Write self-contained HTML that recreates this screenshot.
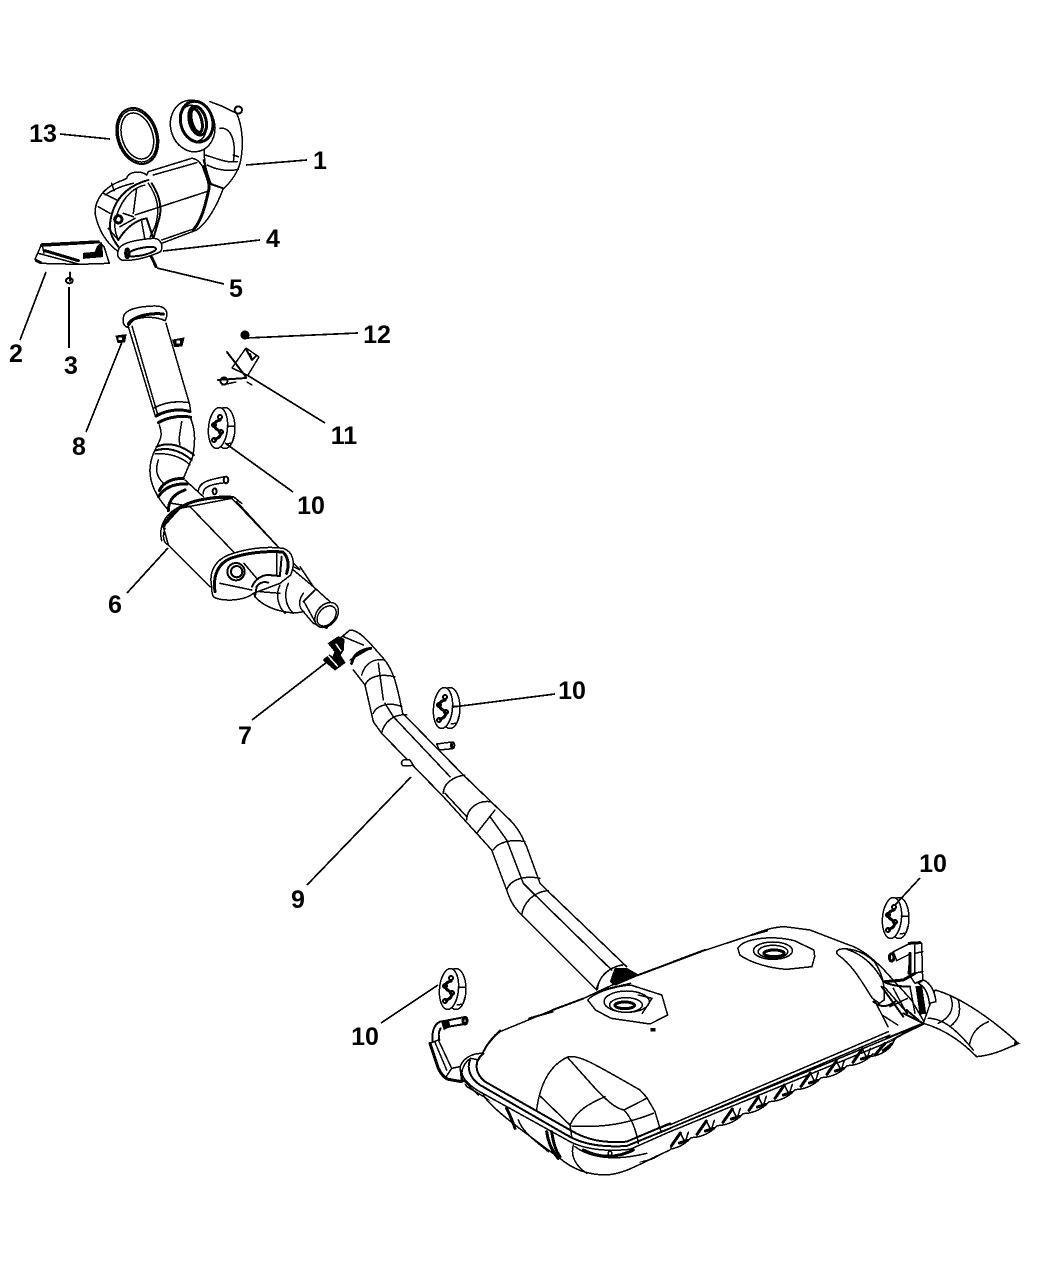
<!DOCTYPE html>
<html><head><meta charset="utf-8"><style>
html,body{margin:0;padding:0;background:#fff}
svg{display:block}
path,ellipse,circle,line,rect{vector-effect:non-scaling-stroke;shape-rendering:crispEdges}
text{font-family:"Liberation Sans",sans-serif;font-size:25px;font-weight:bold;text-anchor:middle;fill:#000}
.a{fill:none;stroke:#000;stroke-width:1.5;stroke-linecap:round;stroke-linejoin:round}
.t{fill:none;stroke:#000;stroke-width:3;stroke-linecap:round;stroke-linejoin:round}
.m{fill:none;stroke:#000;stroke-width:2;stroke-linecap:round;stroke-linejoin:round}
.w{fill:#fff;stroke:#000;stroke-width:1.5;stroke-linejoin:round}
.f{fill:#000;stroke:#000;stroke-width:1}
.l{stroke:#000;stroke-width:1.7;fill:none}
</style></head><body>
<svg width="1050" height="1275" viewBox="0 0 1050 1275" xmlns="http://www.w3.org/2000/svg">
<rect width="1050" height="1275" fill="#fff"/>
<defs>
<g id="gr">
<ellipse class="w" cx="7" cy="0" rx="10" ry="20.5"/>
<ellipse class="w" cx="0" cy="0" rx="9.5" ry="20.5" transform="rotate(5)"/>
<path class="t" d="M2,-8C-6,-6 -4,0 0,2C5,5 2,10 -3,11"/>
<circle class="m" cx="2" cy="-11" r="2"/><circle class="m" cx="-4" cy="-3" r="2"/><circle class="m" cx="3" cy="4" r="2"/><circle class="m" cx="-4" cy="12" r="2"/>
<path class="a" d="M9,-2L17,-2M8,16L14,15M14,15L16,8"/>
</g>
<g id="cor">
<path class="t" d="M0,0L28,-40M25,-10L50,-18"/>
<path class="a" d="M-18,10Q30,8 60,-26M28,-40L42,-12M52,-42C48,-30 45,-20 42,-12"/>
</g>
</defs>

<!-- upper catalytic converter -->
<g transform="translate(20,90) scale(.33333)">
<ellipse class="m" cx="352" cy="138" rx="60" ry="86" transform="rotate(-18 352 138)"/>
<ellipse class="a" cx="352" cy="138" rx="55" ry="80" transform="rotate(-18 352 138)"/>
<ellipse class="a" cx="352" cy="138" rx="46" ry="71" transform="rotate(-18 352 138)"/>
<path class="a" d="M570,35L605,48L650,70C668,110 672,170 660,220C650,255 625,285 600,305"/>
<path class="a" d="M600,115C640,110 648,170 640,215M555,165C548,200 560,265 580,290L608,298"/>
<path class="a" d="M555,195C590,205 620,220 652,215M562,225C590,240 625,245 655,238M550,210L578,300M640,195L655,200"/>
<circle class="m" cx="655" cy="60" r="11"/>
<ellipse class="w" cx="518" cy="108" rx="66" ry="78" transform="rotate(-15 518 108)"/>
<ellipse class="t" cx="530" cy="95" rx="48" ry="62" transform="rotate(-15 530 95)"/>
<ellipse class="a" cx="520" cy="100" rx="38" ry="55" transform="rotate(-15 520 100)"/>
<ellipse class="t" cx="533" cy="92" rx="25" ry="44" transform="rotate(-15 533 92)"/>
<ellipse class="t" cx="530" cy="92" rx="15" ry="36" transform="rotate(-15 530 92)"/>
<path class="w" d="M45,508L65,462L235,453L252,470L268,520L175,523L60,520Z"/>
<path class="t" d="M65,466L235,456M75,482L175,512M50,512L62,518"/>
<path class="a" d="M55,490L175,522M68,470L72,490"/>
<path class="f" d="M190,490L225,487L232,470L245,458L248,500L190,505Z"/>
<path class="m" d="M150,548L150,572"/><ellipse class="m" cx="148" cy="572" rx="10" ry="8"/>
</g>
<g transform="translate(90,150) scale(.33333)">
<path class="w" d="M175,65L305,25C325,25 340,45 360,100L400,115C380,170 350,220 320,240L215,280L85,305C50,280 25,240 15,190C15,150 40,110 100,90L110,85C115,65 150,60 170,75Z"/>
<path class="a" d="M190,75L320,38M215,270L310,237M135,195L350,125"/>
<path class="t" d="M340,50C350,80 362,100 355,125C345,170 335,210 310,240"/>
<path class="m" d="M175,90C120,105 70,140 60,220C58,250 70,270 85,290M355,100L400,115"/>
<path class="a" d="M165,105C120,115 85,160 75,220C73,240 78,255 85,270"/>
<path class="m" d="M185,100C205,130 220,170 205,215L190,265"/>
<path class="a" d="M175,100C195,130 215,170 195,230L180,262"/>
<path class="a" d="M40,130L80,150M65,100L72,122M25,170L60,190M140,115L130,190M55,235L85,270M45,135C75,115 105,105 130,100"/>
<path class="m" d="M85,270C110,230 140,210 170,205L190,265"/>
<path class="a" d="M155,215L165,270M100,190L130,200M90,230L135,205"/>
<circle class="t" cx="85" cy="208" r="11"/>
<path class="w" d="M85,300C90,280 130,270 190,265C215,265 220,290 212,305C180,320 130,335 95,330C85,325 80,315 85,300Z"/>
<ellipse class="m" cx="155" cy="305" rx="44" ry="11" transform="rotate(-12 155 305)"/>
<ellipse class="t" cx="112" cy="310" rx="5" ry="13"/>
<path class="t" d="M185,322L198,350"/>
</g>

<!-- front pipe and resonator -->
<g transform="translate(100,300) scale(.33333)">
<path class="a" d="M85,80L165,345M96,78L172,340M198,70L268,310"/>
<path class="a" d="M160,325C195,305 235,303 268,308L272,335"/>
<path class="t" d="M168,348C200,330 240,325 270,335M175,368C205,350 250,345 272,352"/>
<path class="w" d="M70,55C70,30 110,20 160,18C200,16 208,38 195,62C170,50 130,48 100,60L82,82C72,78 68,68 70,55Z"/>
<path class="t" d="M85,72C100,48 150,38 190,42"/>
<path class="f" d="M48,108L78,104L74,126L54,128Z"/><rect x="56" y="112" width="10" height="8" fill="#fff"/>
<path class="f" d="M218,120L252,114L246,138L224,140Z"/><rect x="230" y="122" width="10" height="8" fill="#fff"/>
<path class="a" d="M272,355C288,395 285,430 278,470L250,535M178,375C190,410 180,420 165,450C135,510 150,570 205,630M245,365C240,400 235,415 240,435M175,480C165,510 170,530 190,550"/>
<path class="m" d="M170,440C205,425 245,435 282,465M165,452C200,440 240,450 275,480"/>
<path class="a" d="M165,462C205,458 245,470 270,495"/>
<path class="t" d="M178,572C190,545 220,535 250,535M175,590C195,560 225,550 262,552M205,632C205,600 225,580 255,570"/>
<path class="a" d="M255,540L310,590M215,610L275,620"/>
<path class="a" d="M295,572C298,548 320,540 375,530M310,582C308,562 330,552 380,548"/>
<ellipse class="m" cx="378" cy="540" rx="7" ry="10"/>
<ellipse class="m" cx="344" cy="574" rx="6" ry="9"/>
<path class="w" d="M205,735L330,860L420,860L580,800L600,810L420,620L395,595L240,625L190,680Z"/>
<path class="a" d="M270,620L405,760M410,605L580,790"/>
<path class="t" d="M190,680C205,650 230,625 265,610C300,597 350,590 395,592"/>
<path class="a" d="M185,722C175,680 195,645 230,625C270,600 340,585 400,590L425,610M205,735C185,725 190,700 195,685"/>
<path class="w" d="M580,810L640,860L712,925L680,985L640,970L610,935C570,945 500,930 465,890L455,860L472,836L505,822Z"/>
<path class="a" d="M540,855C525,885 535,920 555,940M565,850C550,885 558,920 580,940M610,880C592,905 598,925 612,936"/>
<path class="w" d="M335,860C325,810 350,780 385,765C440,745 500,738 550,745C578,755 588,785 572,825L540,850L460,880C430,905 360,905 340,890C335,880 335,870 335,860Z"/>
<path class="t" d="M345,875C338,825 355,790 392,775C440,758 500,752 548,756C565,770 568,795 560,820"/>
<path class="a" d="M360,850L455,870M432,790L470,835M530,760L530,825"/>
<path class="m" d="M545,770L540,825"/>
<circle class="m" cx="408" cy="815" r="26"/><circle class="m" cx="410" cy="815" r="17"/>
<path class="m" d="M456,860C465,838 485,825 505,825L540,828M465,890L470,860C480,845 495,845 505,848"/>
<path class="a" d="M480,875L540,880M600,800L640,860"/>
<ellipse class="w" cx="680" cy="945" rx="30" ry="42" transform="rotate(40 680 945)"/>
<ellipse class="a" cx="680" cy="948" rx="24" ry="34" transform="rotate(40 680 948)"/>
<path class="a" d="M645,870L610,905M612,905L645,965"/>
</g>

<!-- intermediate pipe -->
<g transform="translate(310,620) scale(.33333)">
<path class="a" d="M90,55L120,30C150,30 180,70 220,115C250,150 260,190 278,280L460,465L600,600C630,630 640,660 650,680L690,790L705,805L950,1040"/>
<path class="a" d="M130,150L165,195L190,305L215,340L400,530L500,640L545,690L590,810C600,840 610,860 635,885L860,1110"/>
<path class="a" d="M250,290L420,470M405,520L470,590M540,590L590,660L640,790L670,820L905,1050"/>
<path class="t" d="M125,130C130,105 150,90 182,85"/>
<path class="a" d="M100,50L160,75M120,120L180,85M155,165C165,130 190,115 225,120M165,195C175,170 210,160 255,170M205,130L220,240M190,280C200,255 240,245 275,260M215,340C220,310 250,280 290,285M225,250L250,290"/>
<path class="a" d="M400,520C400,490 430,470 465,465M470,600C470,570 500,540 540,545M500,640L555,570M550,690C560,670 600,655 645,665M590,810C600,780 640,765 690,775M635,885C640,850 670,815 715,812"/>
<path class="a" d="M860,1105C870,1070 890,1045 935,1035"/>
<path class="f" d="M905,1075L925,1045L965,1055L950,1075L910,1100Z"/>
<path class="w" d="M380,372L425,366L428,386L388,390Z"/><ellipse class="m" cx="428" cy="376" rx="5" ry="9"/>
<path class="w" d="M300,420L280,420C270,428 275,438 285,438L310,436Z"/>
</g>
<g transform="translate(300,620) scale(.33333)">
<path class="f" d="M85,70L100,60L115,50L132,58L130,90L120,105L135,128L105,150L70,120L88,105L98,112L105,95Z"/>
<path class="a" style="stroke:#fff" d="M85,108L112,138M108,72L122,92"/>
</g>

<!-- rear muffler: main contour -->
<g transform="translate(420,900) scale(.39,.33333)">
<path class="w" d="M420,295L340,330L205,395C175,425 165,450 150,480L130,475C110,490 105,515 108,535L120,560L470,800L620,760L1295,370L1260,300L1190,210C1165,180 1130,145 1100,135L1000,90L935,80C900,82 880,92 850,105L720,155L560,225L520,240Z"/>
<path class="m" d="M420,295L340,330M560,225L720,155M280,355L340,335M650,185L730,150M850,105L890,92"/>
<path class="a" d="M1072,150C1085,142 1130,145 1165,185C1185,220 1192,250 1190,300L1178,310L1160,295C1135,250 1110,195 1072,165C1066,158 1068,153 1072,150Z"/>
<path class="a" d="M1095,148C1140,165 1170,205 1185,240M1165,300L1200,380M1185,345L1225,375M1190,260L1250,340M1205,320L1250,295"/>
<path class="a" d="M430,300C445,280 490,260 540,255L620,285L635,345L590,372L490,355L450,330Z"/>
<ellipse class="a" cx="528" cy="315" rx="42" ry="22"/><ellipse class="t" cx="525" cy="316" rx="25" ry="10"/><ellipse class="a" cx="530" cy="305" rx="58" ry="32"/>
<path class="a" d="M560,285L595,295L570,340"/>
<path class="f" d="M592,385h10v8h-10z"/>
<path class="a" d="M815,145C830,115 900,105 960,122L1010,150L1012,170L1005,200L940,208C900,205 850,190 820,165Z"/>
<ellipse class="a" cx="905" cy="152" rx="50" ry="26"/><ellipse class="a" cx="905" cy="155" rx="38" ry="19"/><ellipse class="t" cx="908" cy="160" rx="26" ry="10"/>
<path class="a" d="M455,268C458,225 490,200 520,195"/>
<path class="f" d="M488,245L500,205L530,205L560,225L500,255Z"/>
<path class="a" d="M500,255L560,225M465,270L540,250"/>
</g>

<!-- long side: rim and corrugations -->
<g transform="translate(640,1020) scale(.33333)">
<path class="w" style="stroke:none" d="M0,365L765,55L790,60L600,200L300,330L30,440L0,440Z"/>
<path class="a" d="M65,325L745,35M65,335L750,45M0,362L755,50M0,372L765,58"/>
<path class="m" d="M765,55L810,30"/>
<path class="a" d="M680,110C725,110 755,85 765,55"/>
<use href="#cor" x="15" y="415"/><use href="#cor" x="93" y="379"/><use href="#cor" x="171" y="343"/><use href="#cor" x="249" y="307"/><use href="#cor" x="327" y="271"/><use href="#cor" x="405" y="235"/><use href="#cor" x="483" y="199"/><use href="#cor" x="561" y="163"/><use href="#cor" x="639" y="127"/>
<path class="t" d="M705,105L735,70M730,92L755,72"/>
</g>

<!-- left corner -->
<g transform="translate(420,1010) scale(.33333)">
<path class="w" style="stroke:none" d="M125,215L190,255L385,420L460,480L560,495L750,420L750,345L620,395L450,360L190,220Z"/>
<path class="a" d="M190,255C210,290 290,350 385,420C400,430 410,440 420,445C460,480 510,495 560,495C620,490 660,460 750,420"/>
<path class="m" d="M190,130C160,155 165,190 195,215L450,360C500,390 550,400 620,395L750,340"/>
<path class="m" d="M150,150C140,175 150,205 180,225L440,375C490,405 550,412 620,408L750,355"/>
<path class="a" d="M125,180C125,200 135,215 170,240L450,395C500,420 560,425 630,418L750,365M120,170C130,145 155,130 185,130M130,210L175,255"/>
<path class="a" d="M295,330C310,370 350,395 385,425M460,405C450,440 470,470 500,490M465,410C520,450 600,450 680,430"/>
<path class="t" d="M260,295C270,315 280,340 285,355M380,365C385,400 400,430 415,445M395,365C400,395 405,420 420,440M490,420C540,445 590,445 640,420"/>
<circle class="a" cx="570" cy="430" r="6"/>
<path class="m" d="M190,125C205,95 225,75 240,62"/>
<path class="a" d="M350,300C360,220 390,165 445,140C480,135 520,160 660,240L680,262L705,305L722,362"/>
<path class="a" d="M445,145L530,240C560,270 585,295 612,300L680,265M612,300C640,330 650,370 655,400M360,258L450,345M450,345C470,300 510,280 555,260M455,348C520,352 600,350 700,310M450,345L455,380"/>
<path class="w" d="M30,100L55,90L95,175L120,170L125,215L85,208C75,205 65,195 55,175Z"/>
<path class="t" d="M30,100L55,175C65,195 75,205 85,208L125,215"/>
<path class="a" d="M45,97L80,180M95,175L75,205"/>
<path class="m" d="M60,35C40,45 35,70 38,95M62,55C55,65 55,80 58,90M62,35L130,22M85,50L135,42"/>
<path class="f" d="M65,35L85,30L90,50L72,58Z"/>
<ellipse class="t" cx="135" cy="32" rx="6" ry="10"/>
</g>

<!-- right tail and hanger -->
<g transform="translate(860,930) scale(.33333)">
<path class="w" d="M225,180C300,200 400,270 475,340C430,360 400,375 350,380C310,340 260,300 190,280Z"/>
<path class="a" d="M270,195C285,230 275,260 235,280M295,210C305,250 295,270 270,290M385,275C350,290 335,310 328,345M205,265C250,265 290,300 340,360"/>
<path class="f" d="M465,335L478,340L462,348Z"/>
<path class="w" d="M190,150C215,160 225,190 228,215L208,220C205,190 195,170 175,160Z"/>
<path class="m" d="M70,155C90,165 120,170 150,170M65,170L130,260M40,215C65,235 85,230 105,215"/>
<path class="a" d="M150,170L165,250M100,175L140,250"/>
<path class="f" d="M168,170L185,168L197,250L180,252Z"/>
<path class="m" d="M130,250L190,280L165,290L80,325M140,240L175,270"/>
<path class="w" d="M100,65L150,40L185,40L188,150L165,160L145,130L150,72L110,92Z"/>
<path class="t" d="M148,40L180,38M150,70L150,130M75,155L130,150L165,130"/>
<path class="a" d="M165,45L165,130M165,70L188,65M160,130L188,125"/>
<ellipse class="t" cx="95" cy="82" rx="7" ry="11"/>
</g>

<use href="#gr" x="218" y="428"/>
<use href="#gr" x="443" y="708"/>
<use href="#gr" x="892" y="918"/>
<use href="#gr" x="449" y="989"/>

<circle cx="245" cy="335" r="4.5" fill="#000"/>
<path class="m" d="M227,352L246,377M246,349L252,360M218,380L246,378"/>
<path class="a" d="M232,368L246,348L259,357L248,375M232,368L247,375M236,382L222,385M247,382L252,385"/>
<circle class="m" cx="224" cy="381" r="3.5"/>
<path class="m" d="M250,354L252,360L256,356"/>

<path class="l" d="M60,134L110,139M246,165L307,160M163,251L260,240M157,268L224,284M46,272L20,340M69,287L69,348M122,342L86,432M247,338L358,333M247,375L325,423M225,443L293,492M168,548L127,593M327,662L252,720M453,707L555,694M411,777L307,885M895,905L920,878M438,985L381,1023"/>

<text x="43" y="142">13</text>
<text x="320" y="169">1</text>
<text x="273" y="247">4</text>
<text x="236" y="297">5</text>
<text x="16" y="362">2</text>
<text x="71" y="374">3</text>
<text x="79" y="455">8</text>
<text x="377" y="343">12</text>
<text x="344" y="444">11</text>
<text x="311" y="514">10</text>
<text x="115" y="613">6</text>
<text x="245" y="744">7</text>
<text x="572" y="699">10</text>
<text x="298" y="908">9</text>
<text x="933" y="872">10</text>
<text x="365" y="1045">10</text>
</svg>
</body></html>
